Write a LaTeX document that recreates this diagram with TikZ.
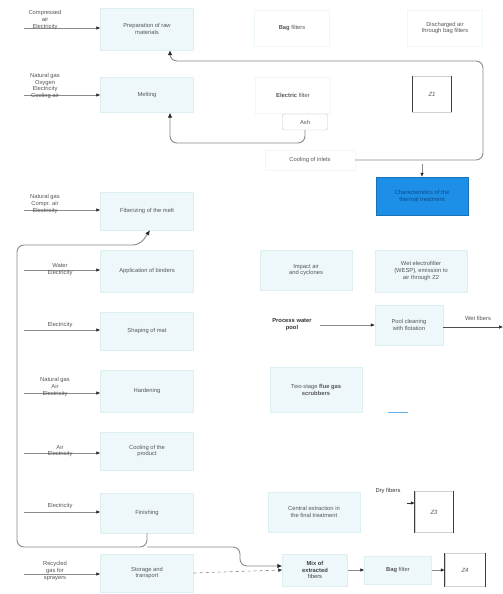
\documentclass[tikz,border=0pt]{standalone}
\usepackage{fontspec}
\setmainfont{Liberation Sans}
\usetikzlibrary{arrows.meta,calc}
\definecolor{boxfill}{HTML}{EEF8FA}
\definecolor{boxedge}{HTML}{DCEFF3}
\definecolor{linegray}{HTML}{8A8A8A}
\definecolor{txtgray}{HTML}{555555}
\definecolor{bluebox}{HTML}{1E8FE6}
\definecolor{bluetxt}{HTML}{0D4A8C}
\tikzset{
  fs/.style={font=\fontsize{5.8}{6.8}\selectfont},
  proc/.style={fs, draw=boxedge, fill=boxfill, minimum width=93pt, minimum height=40pt, align=center, text=txtgray, inner sep=1pt},
  faint/.style={fs, draw=boxfill, fill=white, align=center, text=txtgray, inner sep=1pt},
  inp/.style={fs, align=center, text=txtgray, inner sep=0pt},
  conn/.style={draw=linegray, line width=0.6pt, -{Latex[length=4pt,width=3.6pt,color=black!85]}},
  loopline/.style={draw=linegray, line width=0.9pt, rounded corners=7pt},
  looptip/.style={-{Latex[length=5pt,width=4.5pt,color=black!85]}},
  zbox/.style={fs, draw=gray!35, minimum width=39pt, minimum height=36pt, font=\fontsize{6}{7}\selectfont\itshape, text=txtgray},
}
\begin{document}
\begin{tikzpicture}[x=1pt,y=-1pt]
\useasboundingbox (0,0) rectangle (503,594);
\fill[white] (0,0) rectangle (503,594);

% left process column
\node[proc, minimum height=42pt] (prep) at (147,29) {Preparation of raw\\materials};
\node[proc, minimum height=35pt] (melt) at (147,95) {Melting};
\node[proc, minimum height=38pt] (fib) at (147,211) {Fiberizing of the melt};
\node[proc, minimum height=42pt] (bind) at (147,271) {Application of binders};
\node[proc, minimum height=38pt] (shape) at (147,331) {Shaping of mat};
\node[proc, minimum height=42pt] (hard) at (147,391) {Hardening};
\node[proc, minimum height=38pt] (cool) at (147,451) {Cooling of the\\product};
\node[proc, minimum height=40pt] (fin) at (147,513) {Finishing};
\node[proc, minimum height=38pt] (stor) at (147,573) {Storage and\\transport};

% inputs
\coordinate (i1) at (24,28);
\coordinate (i2) at (24,95);
\coordinate (i3) at (24,210);
\coordinate (i4) at (24,270);
\coordinate (i5) at (24,330);
\coordinate (i6) at (24,393);
\coordinate (i7) at (24,453);
\coordinate (i8) at (24,512);
\coordinate (i9) at (24,574);
\draw[conn] (i1) -- (i1 -| prep.west);
\draw[conn] (i2) -- (i2 -| melt.west);
\draw[conn] (i3) -- (i3 -| fib.west);
\draw[conn] (i4) -- (i4 -| bind.west);
\draw[conn] (i5) -- (i5 -| shape.west);
\draw[conn] (i6) -- (i6 -| hard.west);
\draw[conn] (i7) -- (i7 -| cool.west);
\draw[conn] (i8) -- (i8 -| fin.west);
\draw[conn] (i9) -- (i9 -| stor.west);
\node[inp] (t1) at (45,20) {Compressed\\air\\Electricity};
\node[inp] (t2) at (45,86) {Natural gas\\Oxygen\\Electricity\\Cooling air};
\node[inp] (t3) at (45,204) {Natural gas\\Compr. air\\Electricity};
\node[inp] (t4) at (60,270) {Water\\Electricity};
\node[inp] (t5) at (60,325) {Electricity};
\node[inp] (t6) at (55,387) {Natural gas\\Air\\Electricity};
\node[inp] (t7) at (60,451) {Air\\Electricity};
\node[inp] (t8) at (60,506) {Electricity};
\node[inp] (t9) at (55,571) {Recycled\\gas for\\sprayers};

% right column
\node[faint, minimum width=75pt, minimum height=36pt] (bag) at (292,28) {\textbf{Bag} filters};
\node[faint, minimum width=75pt, minimum height=36pt] (disch) at (445,28) {Discharged air\\through bag filters};
\node[faint, minimum width=75pt, minimum height=36pt] (efilt) at (293,95) {\textbf{Electric} filter};
\node[zbox] (z1) at (432,94) {Z1};
\draw[line width=1.3pt, black!75] (z1.north west) -- (z1.south west) (z1.north east) -- (z1.south east);
\node[fs, draw=gray!45, fill=white, rounded corners=2pt, minimum width=45pt, minimum height=16pt, text=txtgray] (ash) at (305,122) {Ash};
\node[faint, minimum width=90pt, minimum height=20pt] (coolin) at (310,160) {Cooling of inlets};
\node[fs, fill=bluebox, draw=bluebox!80!black, minimum width=92pt, minimum height=38pt, align=center, text=bluetxt] (blue) at (422,196) {Characteristics of the\\thermal treatment};

\node[proc, minimum width=92pt, minimum height=40pt] (impact) at (306,270) {Impact air\\and cyclones};
\node[proc, minimum width=92pt, minimum height=42pt] (wesp) at (421,271) {Wet electrofilter\\(WESP), emission to\\air through Z2};
\node[inp, text=black!80] (pool) at (292,325) {\textbf{Process water}\\\textbf{pool}};
\node[proc, minimum width=68pt, minimum height=40pt] (pclean) at (409,325) {Pool cleaning\\with flotation};
\node[inp] (wet) at (478,318) {Wet fibers};
\coordinate (wetend) at (503,327);
\draw[conn] ($(pool.east)+(8,0)$) -- (pclean.west);
\draw[conn, black!70] (pclean.east |- wetend) -- (wetend);

\node[proc, minimum width=92pt, minimum height=45pt] (scrub) at (316,390) {Two-stage \textbf{flue gas}\\\textbf{scrubbers}};
\coordinate (bl) at (388,412);
\draw[bluebox!70, line width=0.8pt] (bl) -- ++(20,0);

\node[proc, minimum width=92pt, minimum height=40pt] (central) at (314,512) {Central extraction in\\the final treatment};
\node[inp, text=black!80] (dry) at (388,491) {Dry fibers};
\node[zbox, minimum width=38pt, minimum height=41pt] (z3) at (434,512) {Z3};
\draw[line width=1.3pt, black!75] (z3.north west) -- (z3.south west) (z3.north east) -- (z3.south east);
\draw[conn, black!80] ($(z3.west)+(-8,-9)$) -- ($(z3.west)+(0,-9)$);

\node[proc, minimum width=65pt, minimum height=32pt, text=black!75] (mix) at (315,570) {\textbf{Mix of}\\\textbf{extracted}\\fibers};
\node[proc, minimum width=67pt, minimum height=28pt] (bagf) at (398,570) {\textbf{Bag} filter};
\node[zbox, minimum width=40pt, minimum height=33pt] (z4) at (465,570) {Z4};
\draw[line width=1.3pt, black!75] (z4.north west) -- (z4.south west) (z4.north east) -- (z4.south east);
\draw[conn] (mix.east) -- (bagf.west);
\draw[conn] (bagf.east) -- (z4.west);
\draw[conn, dashed] (stor.east) -- (mix.west);

% loops
\draw[loopline, looptip] (coolin.east) -- (483,160) -- (483,61) -- (170,61) -- ($(prep.south)+(23,0)$);
\draw[loopline, looptip] (ash.south) |- (170,143) -- ($(melt.south)+(23,0)$);
\draw[conn] (422,164) -- (blue.north);
\draw[loopline, looptip] (fin.south) -- (147,547) -- (17,547) -- (17,245) -- (140,245) -- ($(fib.south)+(3,0)$);
\draw[loopline, looptip] (147,547) -- (240,547) -- (240,566) -- ($(mix.west)+(0,-4)$);
\end{tikzpicture}
\end{document}
